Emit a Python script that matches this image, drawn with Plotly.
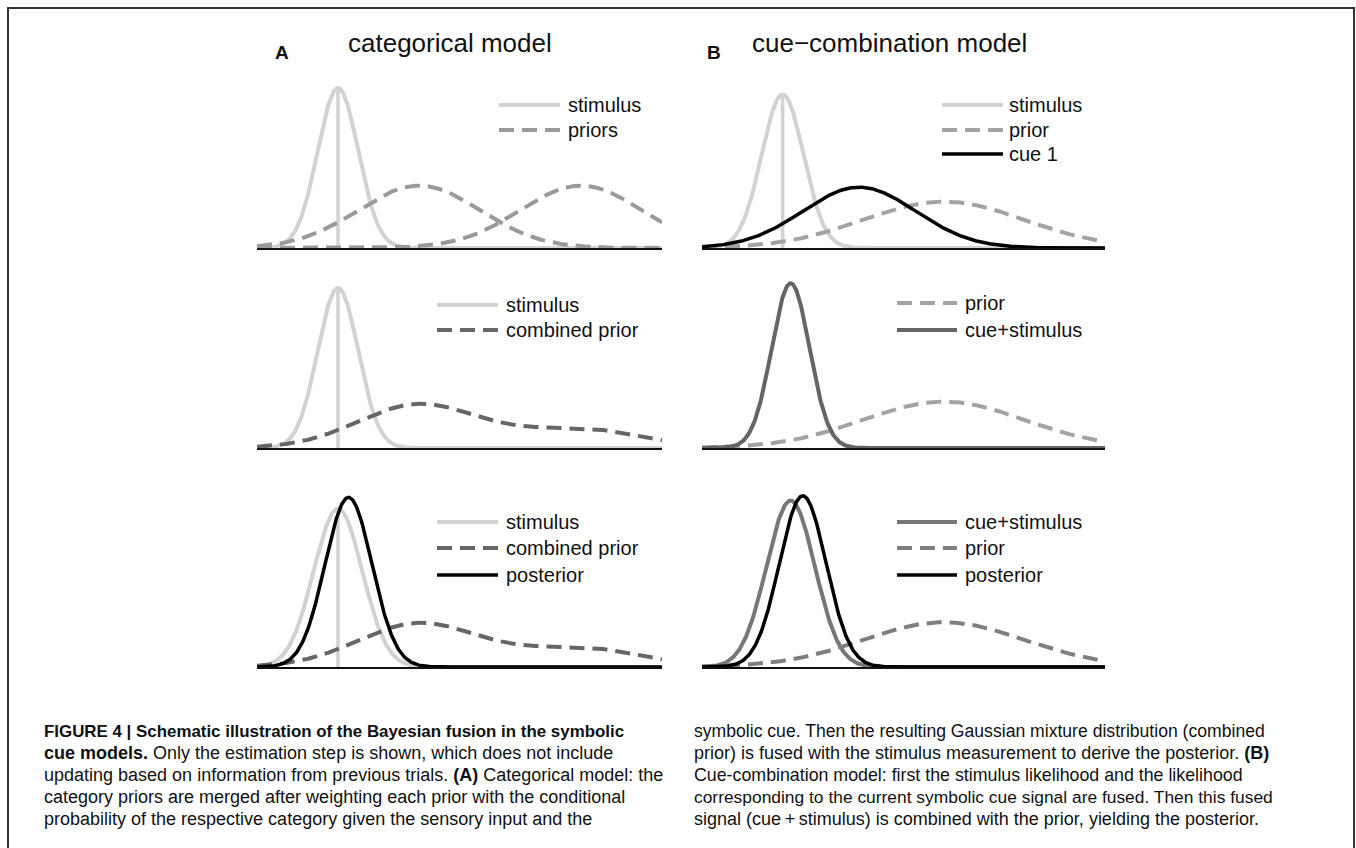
import numpy as np
import plotly.graph_objects as go

W, H = 1356, 848

# ---------------------------------------------------------------------------
# Gaussian components of the schematic (feature axis 0..10; peak heights are
# relative to the stimulus likelihood peak in the top row = 1.0)
# ---------------------------------------------------------------------------
x_range = [0.0, 10.0]

# Panel A: categorical model (rows top -> bottom)
stim_mean = 2.0
stim_sd_A = [0.50, 0.50, 0.60]
stim_peak_A = [1.00, 1.00, 0.99]
prior_means_A = [4.0, 8.0]
prior_sd_A = 1.5
prior_peak_A = 0.39
mix_weights_A = [0.70, 0.30]
post_mean_A, post_sd_A, post_peak_A = 2.26, 0.58, 1.06

# Panel B: cue-combination model (rows top -> bottom)
stim_sd_B, stim_peak_B = 0.52, 0.96
cue1_mean, cue1_sd, cue1_peak = 3.9, 1.4, 0.38
prior_mean_B, prior_sd_B = 6.0, 2.0
prior_peak_B = [0.29, 0.29, 0.28]
cuestim_mean = 2.2
cuestim_sd = [0.47, 0.60]
cuestim_peak = [1.03, 1.04]
post_mean_B, post_sd_B, post_peak_B = 2.5, 0.58, 1.07

# Colours
STIM = "#d2d2d2"
PRIORS = "#9a9a9a"
COMB = "#666666"
PRIOR_B = ["#a3a3a3", "#a3a3a3", "#7f7f7f"]
CUESTIM = ["#656565", "#777777"]
BLACK = "#000000"

DASH = "15px,8px"
LW = 4.0
LW_BLACK = 3.5

xs = np.linspace(x_range[0], x_range[1], 601)


def gauss(mean, sd, peak):
    return peak * np.exp(-0.5 * ((xs - mean) / sd) ** 2)


# Panel geometry in screen pixels
panel_x = {"A": (257, 662), "B": (702, 1105)}
baselines = [248, 448, 667]
PANEL_H = 180          # pixels above baseline
Y_TOP = 1.125          # data units shown above baseline (160 px = 1.0)

fig = go.Figure()
layout_axes = {}

panels = [("A", r) for r in range(3)] + [("B", r) for r in range(3)]
axis_ids = {}
for i, (p, r) in enumerate(panels, start=1):
    axis_ids[(p, r)] = i
    x0, x1 = panel_x[p]
    b = baselines[r]
    xa = "xaxis" if i == 1 else f"xaxis{i}"
    ya = "yaxis" if i == 1 else f"yaxis{i}"
    layout_axes[xa] = dict(
        domain=[x0 / W, x1 / W], range=x_range, anchor=f"y{i if i > 1 else ''}",
        showgrid=False, zeroline=False, showticklabels=False, ticks="",
        showline=True, linecolor="#111111", linewidth=2, fixedrange=True,
    )
    layout_axes[ya] = dict(
        domain=[1 - b / H, 1 - (b - PANEL_H) / H], range=[0, Y_TOP],
        anchor=f"x{i if i > 1 else ''}", visible=False, fixedrange=True,
    )


def add(p, r, y, color, width=LW, dash="solid"):
    i = axis_ids[(p, r)]
    fig.add_trace(go.Scatter(
        x=xs, y=y, mode="lines", showlegend=False, hoverinfo="skip",
        line=dict(color=color, width=width, dash=dash),
        xaxis=f"x{i if i > 1 else ''}", yaxis=f"y{i if i > 1 else ''}",
        cliponaxis=True,
    ))


def add_marker_line(p, r, xpos, top, color):
    i = axis_ids[(p, r)]
    fig.add_trace(go.Scatter(
        x=[xpos, xpos], y=[0, top], mode="lines", showlegend=False,
        hoverinfo="skip", line=dict(color=color, width=3.5),
        xaxis=f"x{i if i > 1 else ''}", yaxis=f"y{i if i > 1 else ''}",
    ))


def combined_prior():
    return sum(w * gauss(m, prior_sd_A, prior_peak_A)
               for w, m in zip(mix_weights_A, prior_means_A))


# ---- Panel A ----
# row 1: stimulus + category priors
add("A", 0, gauss(stim_mean, stim_sd_A[0], stim_peak_A[0]), STIM)
add_marker_line("A", 0, stim_mean, stim_peak_A[0], STIM)
for m in prior_means_A:
    add("A", 0, gauss(m, prior_sd_A, prior_peak_A), PRIORS, dash=DASH)
# row 2: stimulus + combined prior
add("A", 1, gauss(stim_mean, stim_sd_A[1], stim_peak_A[1]), STIM)
add_marker_line("A", 1, stim_mean, stim_peak_A[1], STIM)
add("A", 1, combined_prior(), COMB, dash=DASH)
# row 3: stimulus + combined prior + posterior
add("A", 2, gauss(stim_mean, stim_sd_A[2], stim_peak_A[2]), STIM)
add_marker_line("A", 2, stim_mean, stim_peak_A[2], STIM)
add("A", 2, combined_prior(), COMB, dash=DASH)
add("A", 2, gauss(post_mean_A, post_sd_A, post_peak_A), BLACK, width=LW_BLACK)

# ---- Panel B ----
# row 1: stimulus + prior + cue 1
add("B", 0, gauss(stim_mean, stim_sd_B, stim_peak_B), STIM)
add_marker_line("B", 0, stim_mean, stim_peak_B, STIM)
add("B", 0, gauss(prior_mean_B, prior_sd_B, prior_peak_B[0]), PRIOR_B[0], dash=DASH)
add("B", 0, gauss(cue1_mean, cue1_sd, cue1_peak), BLACK, width=LW_BLACK)
# row 2: prior + cue+stimulus
add("B", 1, gauss(prior_mean_B, prior_sd_B, prior_peak_B[1]), PRIOR_B[1], dash=DASH)
add("B", 1, gauss(cuestim_mean, cuestim_sd[0], cuestim_peak[0]), CUESTIM[0])
# row 3: cue+stimulus + prior + posterior
add("B", 2, gauss(cuestim_mean, cuestim_sd[1], cuestim_peak[1]), CUESTIM[1])
add("B", 2, gauss(prior_mean_B, prior_sd_B, prior_peak_B[2]), PRIOR_B[2], dash=DASH)
add("B", 2, gauss(post_mean_B, post_sd_B, post_peak_B), BLACK, width=LW_BLACK)

# ---------------------------------------------------------------------------
# Per-panel keys: sample line + label
# ---------------------------------------------------------------------------
shapes = []
annotations = []
TXT = "#111111"
FONT = "Liberation Sans, Arial, Helvetica, sans-serif"


def key(entries, lx0, lx1, tx, ys):
    for (label, color, dash, width), y in zip(entries, ys):
        shapes.append(dict(
            type="line", xref="paper", yref="paper",
            x0=lx0 / W, x1=lx1 / W, y0=1 - y / H, y1=1 - y / H,
            line=dict(color=color, width=width, dash=dash),
        ))
        annotations.append(dict(
            text=label, xref="paper", yref="paper", x=tx / W, y=1 - y / H,
            xanchor="left", yanchor="middle", showarrow=False,
            font=dict(size=20, color=TXT, family=FONT),
        ))


key([("stimulus", STIM, "solid", LW), ("priors", PRIORS, DASH, LW)],
    499, 560, 566, [105, 130])
key([("stimulus", STIM, "solid", LW), ("combined prior", COMB, DASH, LW)],
    437, 498, 504, [305, 330])
key([("stimulus", STIM, "solid", LW), ("combined prior", COMB, DASH, LW),
     ("posterior", BLACK, "solid", LW_BLACK)],
    437, 498, 504, [522, 548, 575])
key([("stimulus", STIM, "solid", LW), ("prior", PRIOR_B[0], DASH, LW),
     ("cue 1", BLACK, "solid", LW_BLACK)],
    942, 1003, 1007, [105, 130, 154])
key([("prior", PRIOR_B[1], DASH, LW), ("cue+stimulus", CUESTIM[0], "solid", LW)],
    897, 957, 963, [303, 330])
key([("cue+stimulus", CUESTIM[1], "solid", LW), ("prior", PRIOR_B[2], DASH, LW),
     ("posterior", BLACK, "solid", LW_BLACK)],
    897, 957, 963, [522, 548, 575])

# Panel titles
def label(text, x, y, size, bold=False, family=FONT):
    annotations.append(dict(
        text=f"<b>{text}</b>" if bold else text, xref="paper", yref="paper",
        x=x / W, y=1 - y / H, xanchor="left", yanchor="middle",
        showarrow=False, font=dict(size=size, color=TXT, family=family),
    ))


label("A", 273, 52, 19, bold=True)
label("categorical model", 346, 43, 26)
label("B", 705, 52, 19, bold=True)
label("cue\u2212combination model", 750, 43, 26)

# Figure caption (two columns)
cap_left = [
    "<b>FIGURE 4 | Schematic illustration of the Bayesian fusion in the symbolic</b>",
    "<b>cue models.</b> Only the estimation step is shown, which does not include",
    "updating based on information from previous trials. <b>(A)</b> Categorical model: the",
    "category priors are merged after weighting each prior with the conditional",
    "probability of the respective category given the sensory input and the",
]
cap_right = [
    "symbolic cue. Then the resulting Gaussian mixture distribution (combined",
    "prior) is fused with the stimulus measurement to derive the posterior. <b>(B)</b>",
    "Cue-combination model: first the stimulus likelihood and the likelihood",
    "corresponding to the current symbolic cue signal are fused. Then this fused",
    "signal (cue\u2009+\u2009stimulus) is combined with the prior, yielding the posterior.",
]
CAP_FONT = "Liberation Sans, Arial, sans-serif"
cap_sizes_left = [16.9, 18, 18, 18, 18]
cap_sizes_right = [17.6, 18, 17.8, 17.4, 18]
for col_x, lines, sizes in ((42, cap_left, cap_sizes_left),
                            (692, cap_right, cap_sizes_right)):
    for k, (line, sz) in enumerate(zip(lines, sizes)):
        label(line, col_x, 731 + 22 * k, sz, family=CAP_FONT)

# Outer frame
shapes.append(dict(
    type="rect", xref="paper", yref="paper",
    x0=8 / W, x1=1354 / W, y0=-0.05, y1=1 - 8 / H,
    line=dict(color="#333333", width=2), fillcolor="rgba(0,0,0,0)",
))

fig.update_layout(
    width=W, height=H, margin=dict(l=0, r=0, t=0, b=0),
    paper_bgcolor="white", plot_bgcolor="white",
    shapes=shapes, annotations=annotations, showlegend=False,
    **layout_axes,
)

fig.write_html("out.html", config={"displayModeBar": False})
